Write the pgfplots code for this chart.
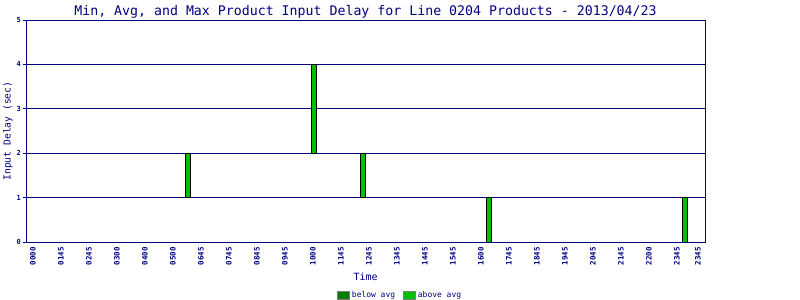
\documentclass[border=0pt]{standalone}
\usepackage{pgfplots}
\pgfplotsset{compat=1.18}
\usepackage{fontspec}
\setmainfont{DejaVu Sans Mono}
\definecolor{navy}{HTML}{000080}
\definecolor{barg}{HTML}{00C000}
\definecolor{belowg}{HTML}{008000}
\definecolor{aboveg}{HTML}{00C000}
\begin{document}
\begin{tikzpicture}
\path[use as bounding box] (0bp,0bp) rectangle (800bp,300bp);
\begin{axis}[
  at={(26bp,58bp)}, anchor=south west,
  scale only axis, width=679bp, height=222bp,
  xmin=-0.25, xmax=24, ymin=0, ymax=5,
  /pgf/number format/assume math mode=true,
  ybar stacked, bar width=5bp,
  xtick={0,1,2,3,4,5,6,7,8,9,10,11,12,13,14,15,16,17,18,19,20,21,22,23,23.75},
  xticklabels={0000,0145,0245,0300,0400,0500,0645,0745,0845,0945,1000,1145,1245,1345,1445,1545,1600,1745,1845,1945,2045,2145,2200,2345,2345},
  xticklabel style={rotate=90, anchor=east, font=\fontsize{7.5}{8}\selectfont\bfseries, text=navy, inner sep=2bp},
  xtick style={draw=none},
  ytick={0,1,2,3,4,5},
  yticklabel style={font=\fontsize{7}{8}\selectfont\bfseries, text=navy, inner sep=2bp},
  tick pos=left, tick align=outside, major tick length=3bp,
  ytick style={navy, line width=0.8bp},
  ymajorgrids, grid style={navy, line width=0.9bp},
  axis line style={navy, line width=0.9bp},
  title={Min, Avg, and Max Product Input Delay for Line 0204 Products - 2013/04/23},
  title style={at={(0.5,1)}, anchor=base, yshift=-1bp, font=\fontsize{13.3}{14}\selectfont, text=navy},
  xlabel={Time},
  every axis x label/.style={at={(rel axis cs:0.5,-0.158)}, anchor=center, font=\fontsize{10}{11}\selectfont, text=navy},
  ylabel={Input Delay (sec)},
  every axis y label/.style={at={(rel axis cs:-0.0265,0.5)}, rotate=90, anchor=center, font=\fontsize{9.7}{11}\selectfont, text=navy},
  legend columns=2,
  legend style={at={(rel axis cs:0.551,-0.239)}, anchor=center, draw=none, fill=none,
    font=\fontsize{8}{9}\selectfont, text=navy,
    /tikz/every even column/.append style={column sep=6bp}},
  legend image code/.code={\draw[#1, draw=gray, line width=0.8bp] (0bp,-4bp) rectangle (12bp,4bp);},
]
\addplot[draw=none, fill=none, forget plot] coordinates {(5.525,1) (10.03,2) (11.79,1) (16.28,0) (23.28,0)};
\addplot[fill=barg, draw=black, line width=0.7bp, forget plot] coordinates {(5.525,1) (10.03,2) (11.79,1) (16.28,1) (23.28,1)};
\addlegendimage{fill=belowg}
\addlegendentry{below avg}
\addlegendimage{fill=aboveg}
\addlegendentry{above avg}
\end{axis}
\end{tikzpicture}
\end{document}
